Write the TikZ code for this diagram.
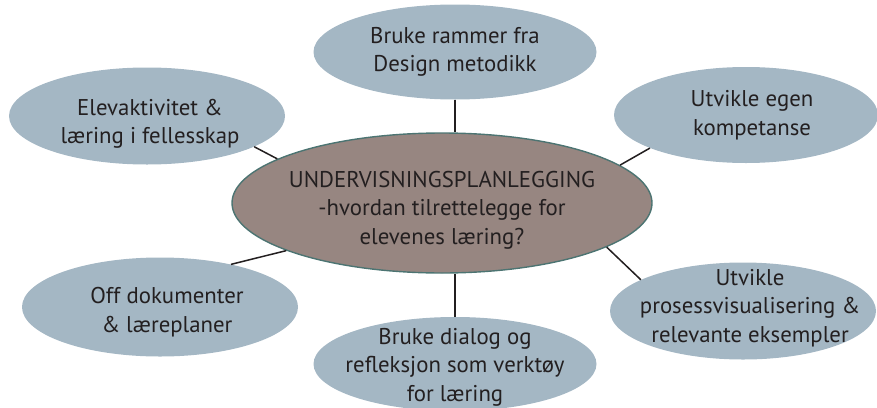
\documentclass[tikz,border=0pt]{standalone}
\usepackage{fontspec}
\setmainfont{PT Sans}
\usetikzlibrary{shapes.geometric}
\definecolor{outerfill}{RGB}{164,183,196}
\definecolor{centerfill}{RGB}{151,134,129}
\definecolor{centerborder}{RGB}{76,116,114}
\definecolor{txt}{RGB}{35,31,32}
\tikzset{
  outerell/.style={ellipse, fill=outerfill, draw=none, inner sep=0pt},
  centerell/.style={ellipse, fill=centerfill, draw=centerborder, line width=1.4pt, inner sep=0pt},
  lbl/.style={align=center, text=txt, font=\fontsize{22.8}{28.5}\selectfont, inner sep=0pt},
  conn/.style={draw=txt, line width=1.5pt}
}
\begin{document}
\begin{tikzpicture}[x=1pt,y=-1pt]
\useasboundingbox (0,0) rectangle (877,407);
\node[outerell, minimum width=283pt, minimum height=95pt] (t) at (455,52) {};
\node[outerell, minimum width=264pt, minimum height=96pt] (tr) at (746,115) {};
\node[outerell, minimum width=266pt, minimum height=97pt] (br) at (743,311) {};
\node[outerell, minimum width=283pt, minimum height=94pt] (b) at (455,364) {};
\node[outerell, minimum width=276pt, minimum height=97pt] (tl) at (147,116) {};
\node[outerell, minimum width=276pt, minimum height=99pt] (bl) at (160,307) {};
\node[centerell, minimum width=420pt, minimum height=140pt] (c) at (442,203) {};
\draw[conn] (t.south) -- (t.south |- c.north);
\draw[conn] (b.north) -- (b.north |- c.south);
\draw[conn] (tl.-16.5) -- (c.165);
\draw[conn] (tr.199) -- (c.12);
\draw[conn] (br.163) -- (c.-15);
\draw[conn] (bl.31) -- (c.197);
\node[lbl] (ct) at (442,210) {UNDERVISNINGSPLANLEGGING\\-hvordan tilrettelegge for\\elevenes læring?};
\node[lbl] (tt) at (455,52) {Bruke rammer fra\\Design metodikk};
\node[lbl] (trt) at (752,115) {Utvikle egen\\kompetanse};
\node[lbl] (brt) at (750,308) {Utvikle\\prosessvisualisering \&\\relevante eksempler};
\node[lbl] (bt) at (455,367) {Bruke dialog og\\refleksjon som verktøy\\for læring};
\node[lbl] (tlt) at (150,124) {Elevaktivitet \&\\læring i fellesskap};
\node[lbl] (blt) at (167,312) {Off dokumenter\\\& læreplaner};
\end{tikzpicture}
\end{document}
